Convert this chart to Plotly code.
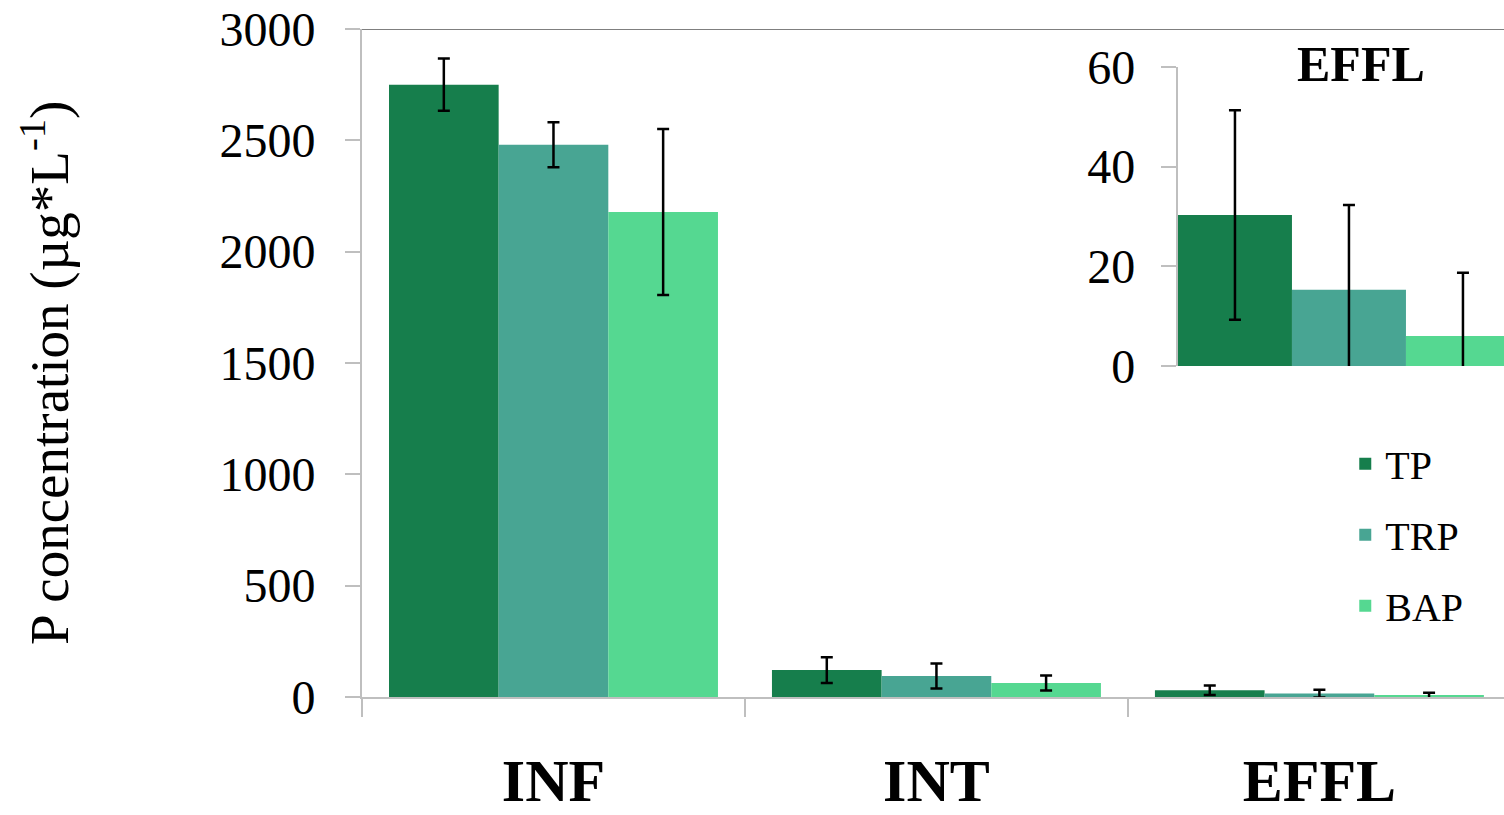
import plotly.graph_objects as go

categories = ["INF", "INT", "EFFL"]
series = ["TP", "TRP", "BAP"]
tp = [2750, 121, 30.3]
trp = [2480, 94, 15.3]
bap = [2178, 63, 6.0]
tp_err = [117, 58, 21]
trp_err = [101, 56, 17]
bap_err = [373, 34, 12.7]
colors = ["#167E4C", "#48A593", "#55D891"]

FONT = "Liberation Serif, Times New Roman, serif"
values = [tp, trp, bap]
errors = [tp_err, trp_err, bap_err]

fig = go.Figure()
for i, name in enumerate(series):
    fig.add_trace(go.Bar(
        x=categories, y=values[i], name=name, legendgroup=name,
        marker=dict(color=colors[i], line=dict(width=0)),
        error_y=dict(type="data", array=errors[i], visible=True,
                     color="black", thickness=2.5, width=6),
        xaxis="x", yaxis="y",
    ))

# inset: EFFL only
fig.add_trace(go.Bar(
    x=[0, 1, 2], y=[v[2] for v in values], width=1, showlegend=False,
    marker=dict(color=colors, line=dict(width=0)),
    error_y=dict(type="data", array=[e[2] for e in errors], visible=True,
                 color="black", thickness=2.5, width=6),
    xaxis="x2", yaxis="y2",
))

grey = "#BFBFBF"
fig.update_layout(
    width=1504, height=815,
    margin=dict(l=362, r=0, t=29, b=118, autoexpand=False),
    paper_bgcolor="white", plot_bgcolor="white",
    barmode="group", bargap=0.141, bargroupgap=0,
    font=dict(family=FONT, color="black"),
    xaxis=dict(
        domain=[0, 1], range=[-0.5, 2.482], type="category",
        showline=True, linecolor=grey, linewidth=2,
        ticks="outside", tickson="boundaries", ticklen=18, tickcolor=grey, tickwidth=2,
        tickfont=dict(size=60, family=FONT, color="black", weight="bold"),
        ticklabelstandoff=30, showgrid=False, zeroline=False,
    ),
    yaxis=dict(
        domain=[0, 1], range=[0, 3000], dtick=500, tickformat="d",
        showline=True, linecolor=grey, linewidth=2,
        ticks="outside", ticklen=15, tickcolor=grey, tickwidth=2,
        tickfont=dict(size=48, family=FONT, color="black"),
        ticklabelstandoff=20, showgrid=False, zeroline=False,
    ),
    xaxis2=dict(
        domain=[0.7145, 1], range=[-0.5, 2.36], anchor="y2",
        showline=False, showticklabels=False, ticks="", showgrid=False, zeroline=False,
    ),
    yaxis2=dict(
        domain=[0.4955, 0.9431], range=[0, 60], dtick=20, anchor="x2",
        showline=True, linecolor=grey, linewidth=2,
        ticks="outside", ticklen=15, tickcolor=grey, tickwidth=2,
        tickfont=dict(size=48, family=FONT, color="black"),
        ticklabelstandoff=16, showgrid=False, zeroline=False,
    ),
    legend=dict(
        x=0.861, y=0.398, xanchor="left", yanchor="top",
        font=dict(size=40, family=FONT, color="black"),
        tracegroupgap=16, bgcolor="rgba(0,0,0,0)",
    ),
    shapes=[dict(type="line", xref="x domain", yref="y", x0=0, x1=1, y0=3000, y1=3000,
                 line=dict(color="#7F7F7F", width=2))],
    annotations=[
        dict(text="P concentration (µg*L<sup>-1</sup>)", textangle=-90,
             xref="paper", yref="paper", x=-0.2776, y=0.485, xanchor="center", yanchor="middle",
             showarrow=False, font=dict(size=55, family=FONT, color="black")),
        dict(text="<b>EFFL</b>", xref="paper", yref="paper", x=0.875, y=0.947,
             xanchor="center", yanchor="middle", showarrow=False,
             font=dict(size=50, family=FONT, color="black")),
    ],
)

fig.write_html("out.html")
